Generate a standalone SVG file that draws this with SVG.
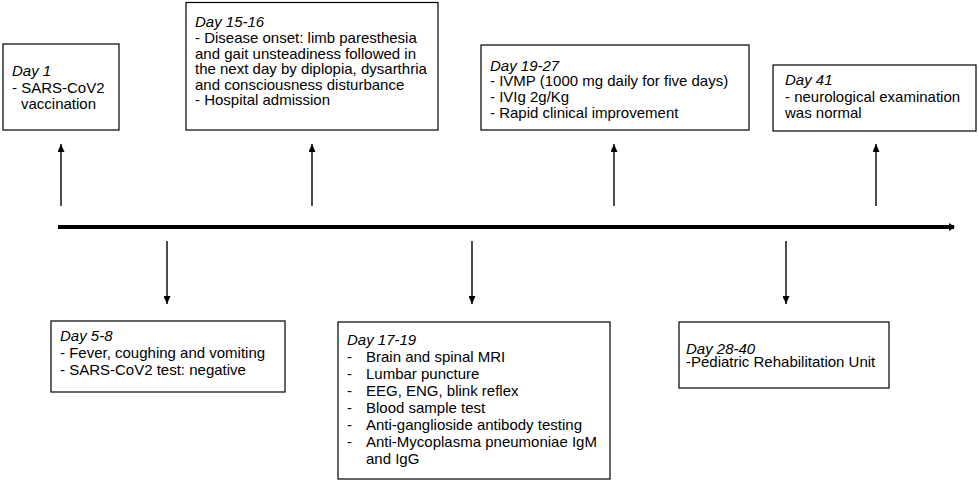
<svg xmlns="http://www.w3.org/2000/svg" width="979" height="484" viewBox="0 0 979 484">
<style>
.box{fill:#fff;stroke:#000;stroke-width:1.2}
text{font-family:"Liberation Sans",Arial,sans-serif;font-size:15px;fill:#000}
.d{font-style:italic}
.ar{stroke:#000;stroke-width:1.4;fill:none}
.tl{stroke:#000;stroke-width:4;fill:none}
</style>
<defs>
<marker id="ah" viewBox="0 0 8 7" refX="8" refY="3.5" markerWidth="8" markerHeight="7" markerUnits="userSpaceOnUse" orient="auto"><path d="M0,0 L8,3.5 L0,7 z" fill="#000"/></marker>
<marker id="th" viewBox="0 0 6 8" refX="5" refY="4" markerWidth="6" markerHeight="8" markerUnits="userSpaceOnUse" orient="auto"><path d="M0,0 L6,4 L0,8 z" fill="#000"/></marker>
</defs>
<rect width="979" height="484" fill="#fff"/>
<g id="connectors">
<line class="tl" x1="58" y1="227" x2="954" y2="227" marker-end="url(#th)"/>
<line class="ar" x1="61" y1="206" x2="61" y2="144" marker-end="url(#ah)"/>
<line class="ar" x1="312" y1="206" x2="312" y2="144" marker-end="url(#ah)"/>
<line class="ar" x1="614" y1="206" x2="614" y2="144" marker-end="url(#ah)"/>
<line class="ar" x1="876" y1="206" x2="876" y2="144" marker-end="url(#ah)"/>
<line class="ar" x1="167" y1="241" x2="167" y2="304" marker-end="url(#ah)"/>
<line class="ar" x1="472" y1="241" x2="472" y2="304" marker-end="url(#ah)"/>
<line class="ar" x1="786" y1="241" x2="786" y2="304" marker-end="url(#ah)"/>
</g>
<g id="day1">
<rect class="box" x="3" y="44" width="116" height="86"/>
<text class="d" x="12" y="76">Day 1</text>
<text x="12" y="92.5">- SARS-CoV2</text>
<text x="21" y="109">vaccination</text>
</g>
<g id="day15">
<rect class="box" x="186" y="2.5" width="252" height="127.5"/>
<text class="d" x="195" y="26.5">Day 15-16</text>
<text x="195" y="42.5">- Disease onset: limb paresthesia</text>
<text x="195" y="58.5">and gait unsteadiness followed in</text>
<text x="195" y="74">the next day by diplopia, dysarthria</text>
<text x="195" y="89.5">and consciousness disturbance</text>
<text x="195" y="105">- Hospital admission</text>
</g>
<g id="day19">
<rect class="box" x="481" y="45" width="268" height="85"/>
<text class="d" x="490" y="70.5">Day 19-27</text>
<text x="490" y="86.2">- IVMP (1000 mg daily for five days)</text>
<text x="490" y="101.9">- IVIg 2g/Kg</text>
<text x="490" y="117.6">- Rapid clinical improvement</text>
</g>
<g id="day41">
<rect class="box" x="773" y="65" width="203" height="66"/>
<text class="d" x="785" y="84.5">Day 41</text>
<text x="785" y="101.5">- neurological examination</text>
<text x="785" y="118">was normal</text>
</g>
<g id="day5">
<rect class="box" x="51" y="321" width="234" height="71"/>
<text class="d" x="60" y="341">Day 5-8</text>
<text x="60" y="358">- Fever, coughing and vomiting</text>
<text x="60" y="375">- SARS-CoV2 test: negative</text>
</g>
<g id="day17">
<rect class="box" x="338" y="322" width="272" height="157"/>
<text class="d" x="347" y="345">Day 17-19</text>
<text y="362"><tspan x="347">-</tspan><tspan x="366">Brain and spinal MRI</tspan></text>
<text y="379"><tspan x="347">-</tspan><tspan x="366">Lumbar puncture</tspan></text>
<text y="396"><tspan x="347">-</tspan><tspan x="366">EEG, ENG, blink reflex</tspan></text>
<text y="413"><tspan x="347">-</tspan><tspan x="366">Blood sample test</tspan></text>
<text y="430"><tspan x="347">-</tspan><tspan x="366">Anti-ganglioside antibody testing</tspan></text>
<text y="447"><tspan x="347">-</tspan><tspan x="366">Anti-Mycoplasma pneumoniae IgM</tspan></text>
<text x="366" y="464">and IgG</text>
</g>
<g id="day28">
<rect class="box" x="679" y="322" width="210" height="66"/>
<text class="d" x="686" y="353.5">Day 28-40</text>
<text x="686" y="366.5">-Pediatric Rehabilitation Unit</text>
</g>
</svg>
